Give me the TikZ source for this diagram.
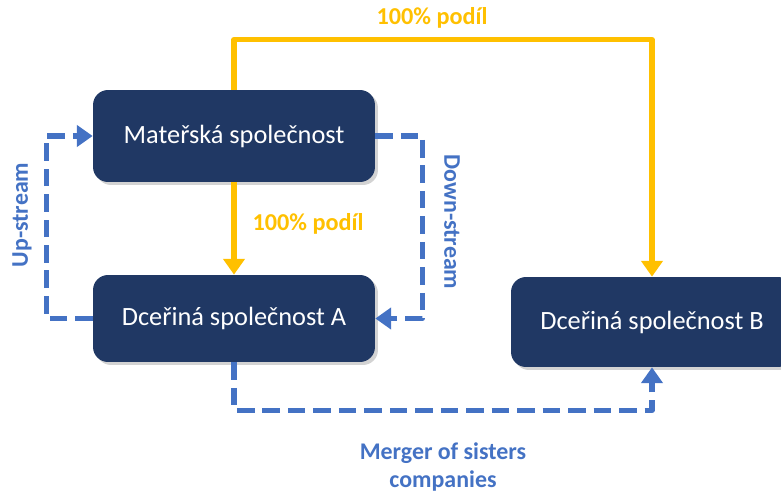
\documentclass[tikz,border=0pt]{standalone}
\usepackage{fontspec}
\setmainfont{Carlito}
\usetikzlibrary{arrows.meta,shadows}
\definecolor{navy}{HTML}{203864}
\definecolor{podil}{HTML}{FFC000}
\definecolor{tok}{HTML}{4472C4}
\tikzset{
	firma/.style={rounded corners=0.3cm,fill=navy,text=white,font=\fontsize{15}{18}\selectfont,
		minimum width=5.64cm,drop shadow={opacity=0.35,shadow xshift=0.06cm,shadow yshift=-0.06cm}},
	vlastnictvi/.style={podil,line width=3pt,-{Triangle[length=9pt,width=12pt]}},
	tokcasu/.style={tok,line width=3pt,dash pattern=on 10pt off 4.5pt,-{Triangle[length=9pt,width=12pt]}},
	popisP/.style={podil,font=\bfseries\fontsize{13.8}{16}\selectfont},
	popisT/.style={tok,font=\bfseries\fontsize{13.6}{16.5}\selectfont,align=center}
}
\begin{document}
\begin{tikzpicture}[x=0.02cm,y=-0.02cm,line join=round]
	\useasboundingbox (0,0) rectangle (781,492);
	% === Firmy ===
	\node[firma,minimum height=1.84cm] (mat) at (234,136) {Mateřská společnost};
	\node[firma,minimum height=1.74cm] (A) at (234,318.5) {Dceřiná společnost A};
	\node[firma,minimum height=1.80cm] (B) at (652,322) {Dceřiná společnost B};
	% === Podíly ===
	\draw[vlastnictvi] (mat.north) -- ++(0,-50) -| (B.north);
	\draw[vlastnictvi] (mat) -- (A);
	\node[popisP] (p1) at (432,18) {100\% podíl};
	\node[popisP] (p2) at (308,224) {100\% podíl};
	% === Toky ===
	\draw[tokcasu] (A.west) -- ++(-46,0) |- (mat.west);
	\draw[tokcasu] (mat.east) -- ++(47,0) |- (A.east);
	\draw[tokcasu] (A.south) -- ++(0,48) -| (B.south);
	\node[popisT,rotate=90] (up) at (22,215) {Up-stream};
	\node[popisT,rotate=-90] (down) at (452,222) {Down-stream};
	\node[popisT] (merger) at (443,467) {Merger of sisters\\companies};
\end{tikzpicture}
\end{document}
